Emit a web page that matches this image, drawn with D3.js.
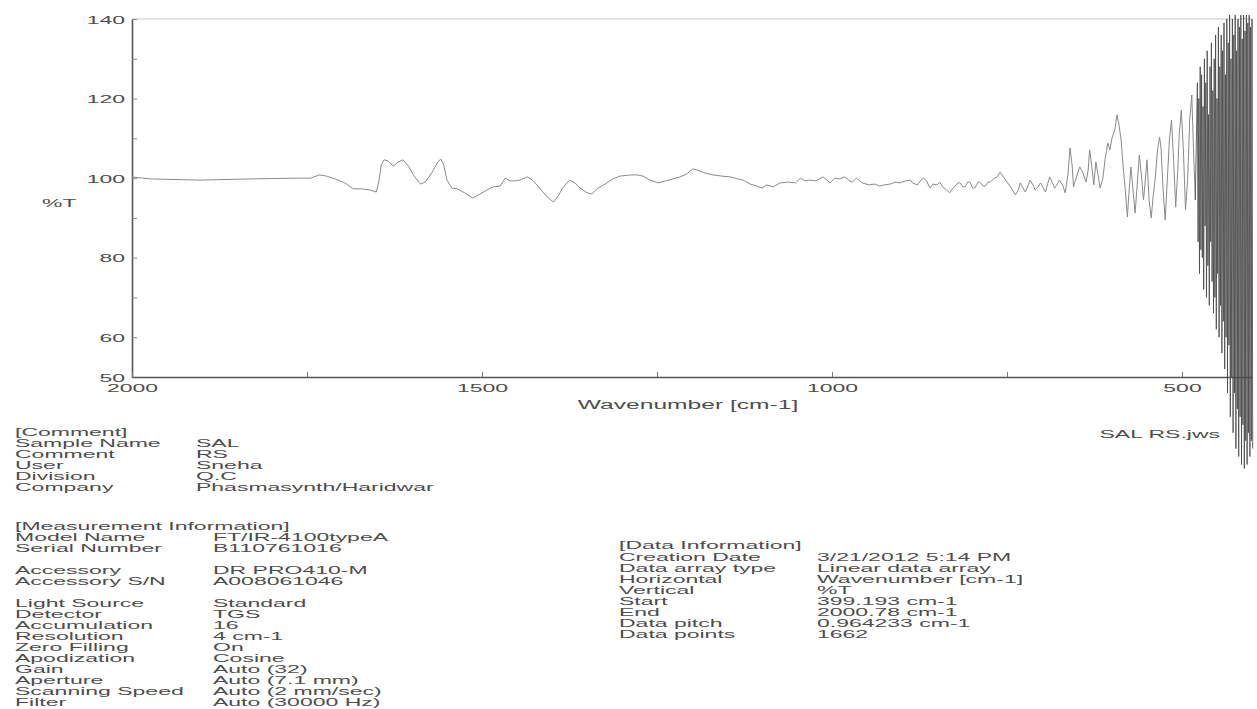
<!DOCTYPE html>
<html>
<head>
<meta charset="utf-8">
<script src="https://cdn.jsdelivr.net/npm/d3@7"></script>
<style>
  html, body { margin: 0; padding: 0; background: #fff; }
  svg { display: block; }
  text { font-family: "Liberation Sans", Arial, sans-serif; fill: #4d4d4d; }
</style>
</head>
<body>
<svg id="chart" width="1257" height="709"></svg>
<script>
// FT-IR transmittance spectrum, 2000 -> 400 cm-1
const wavenumber = [
  2000, 1974, 1903, 1831, 1760, 1745, 1732, 1722, 1710, 1696, 1684, 1672, 1660, 1651, 1647, 1644,
  1640, 1634, 1627, 1620, 1613, 1605, 1598, 1588, 1581, 1571, 1564, 1559, 1555, 1550, 1543, 1535,
  1525, 1513, 1503, 1493, 1484, 1474, 1467, 1460, 1453, 1446, 1435, 1428, 1420, 1412, 1405, 1398,
  1391, 1385, 1375, 1367, 1360, 1350, 1343, 1336, 1324, 1313, 1303, 1288, 1278, 1270, 1260, 1248,
  1238, 1227, 1217, 1208, 1199, 1192, 1182, 1170, 1157, 1145, 1135, 1127, 1117, 1107, 1100, 1093,
  1084, 1074, 1062, 1052, 1045, 1039, 1032, 1023, 1013, 1007, 1003, 996, 989, 982, 975, 971,
  965, 957, 947, 939, 932, 925, 917, 910, 903, 895, 888, 885, 878, 874, 869, 865,
  860, 856, 850, 846, 842, 836, 832, 827, 825, 820, 817, 813, 810, 806, 803, 799,
  796, 791, 789, 784, 781, 777, 774, 768, 764, 760, 756, 751, 745, 738, 734, 731,
  727, 724, 720, 717, 712, 710, 705, 702, 698, 695, 692, 689, 685, 682, 678, 675,
  670, 667, 663, 660, 657, 655, 650, 646, 642, 637, 634, 632, 629, 626, 623, 620,
  617, 613, 610, 606, 603, 600, 596, 593, 590, 587, 584, 581, 578, 576, 573, 570,
  567, 564, 561, 558, 555, 553, 550, 547, 544, 541, 538, 535, 532, 530, 527, 524,
  521, 518, 515, 512, 509, 506, 504, 501, 498, 495, 492, 489, 486, 484, 481
];
const transmittance = [
  100.3, 99.8, 99.5, 99.8, 100.0, 100.0, 100.8, 100.5, 99.8, 98.8, 97.3, 97.3, 97.0, 96.5, 99.5, 103.3,
  104.6, 104.3, 103.0, 104.0, 104.6, 103.0, 100.8, 98.5, 99.0, 101.5, 103.8, 104.8, 103.5, 99.5, 97.5, 97.3,
  96.3, 95.0, 96.0, 97.0, 97.8, 98.0, 100.0, 99.3, 99.3, 99.5, 100.3, 99.5, 98.0, 96.3, 95.0, 94.0,
  95.5, 97.5, 99.5, 98.8, 97.5, 96.3, 96.0, 97.3, 98.5, 99.8, 100.5, 100.8, 100.8, 100.5, 99.5, 98.8,
  99.3, 99.8, 100.3, 101.0, 102.3, 102.0, 101.3, 100.8, 100.5, 100.3, 99.8, 99.5, 98.5, 98.0, 97.5, 98.3,
  97.8, 98.8, 99.0, 98.8, 100.0, 99.3, 99.5, 99.3, 100.3, 99.5, 98.8, 100.0, 99.8, 100.3, 99.3, 99.0,
  100.0, 98.8, 98.3, 98.5, 98.0, 98.3, 98.5, 99.0, 98.8, 99.3, 99.5, 98.8, 98.3, 99.3, 100.0, 99.3,
  97.5, 98.5, 98.3, 99.0, 97.8, 97.0, 96.3, 97.5, 97.8, 98.8, 98.8, 97.8, 97.8, 99.0, 99.0, 97.5,
  97.5, 99.0, 99.0, 98.0, 98.0, 99.0, 99.0, 100.0, 100.3, 101.5, 100.5, 99.3, 97.8, 95.8, 97.0, 98.8,
  97.5, 96.5, 98.0, 99.5, 98.0, 97.0, 98.0, 98.8, 97.5, 96.5, 98.5, 100.3, 98.8, 97.5, 98.5, 99.5,
  98.0, 96.3, 100.8, 107.6, 103.3, 97.8, 100.8, 102.8, 101.5, 99.0, 102.0, 107.1, 103.3, 98.3, 104.1, 100.8,
  97.5, 100.0, 104.6, 108.8, 107.1, 110.1, 112.1, 115.9, 113.4, 109.6, 102.8, 97.0, 90.2, 95.8, 102.8, 97.0,
  91.2, 98.3, 105.8, 100.8, 94.5, 98.3, 104.6, 94.5, 90.0, 95.8, 100.3, 107.1, 110.3, 107.6, 97.0, 89.5,
  99.5, 109.6, 114.6, 104.6, 92.7, 102.0, 110.8, 117.1, 107.1, 92.0, 99.5, 114.6, 120.9, 109.6, 94.5
];
// low-wavenumber end, where the trace is dominated by noise
const noiseWavenumber = [
  478, 477, 476, 475, 474, 473,
  472, 471, 470, 469, 468, 467, 466, 465, 464, 463, 462, 461, 460, 459, 458, 457, 456, 455, 454, 453,
  452, 451, 450, 449, 448, 447, 446, 445, 444, 443, 442, 441, 440, 439, 438, 437, 436, 435, 434, 433,
  432, 431, 430, 429, 428, 427, 426, 425, 424, 423, 422, 421, 420, 419, 418, 417, 416, 415, 414, 413,
  412, 411, 410, 409, 408, 407, 406, 405, 404, 403, 402, 401, 400, 399
];
const noiseTransmittance = [
  124, 84, 120, 76, 128, 82,
  126, 80, 118, 72, 130, 88, 124, 70, 132, 78, 116, 68, 128, 84, 134, 74, 122, 66, 130, 70,
  136, 62, 120, 76, 138, 60, 128, 68, 136, 56, 132, 64, 139, 52, 126, 60, 140, 46, 134, 58,
  141, 40, 130, 50, 140, 36, 136, 46, 141, 32, 132, 42, 140, 30, 138, 40, 141, 28, 135, 38,
  141, 27, 137, 34, 141, 28, 139, 36, 141, 30, 138, 34, 140, 32
];

const yTickValues = [140, 130, 120, 110, 100, 90, 80, 70, 60, 50];
const yLabelValues = [140, 120, 100, 80, 60, 50];
const xTickValues = [2000, 1750, 1500, 1250, 1000, 750, 500];
const xLabelValues = [2000, 1500, 1000, 500];

const commentLabels = ["Sample Name", "Comment", "User", "Division", "Company"];
const commentValues = ["SAL", "RS", "Sneha", "Q.C", "Phasmasynth/Haridwar"];
const measurementLabels = ["Model Name", "Serial Number", "", "Accessory", "Accessory S/N", "",
  "Light Source", "Detector", "Accumulation", "Resolution", "Zero Filling", "Apodization",
  "Gain", "Aperture", "Scanning Speed", "Filter"];
const measurementValues = ["FT/IR-4100typeA", "B110761016", "", "DR PRO410-M", "A008061046", "",
  "Standard", "TGS", "16", "4 cm-1", "On", "Cosine",
  "Auto (32)", "Auto (7.1 mm)", "Auto (2 mm/sec)", "Auto (30000 Hz)"];
const dataInfoLabels = ["Creation Date", "Data array type", "Horizontal", "Vertical", "Start",
  "End", "Data pitch", "Data points"];
const dataInfoValues = ["3/21/2012 5:14 PM", "Linear data array", "Wavenumber [cm-1]", "%T",
  "399.193 cm-1", "2000.78 cm-1", "0.964233 cm-1", "1662"];

// printed text is wide relative to its height
const SX = 2.0;
const FS = 11.5;

const svg = d3.select("#chart");

const x = d3.scaleLinear().domain([2000, 400]).range([132, 1252]);
const y = d3.scaleLinear().domain([50, 140]).range([377, 19]);

function wideText(parent, px, py, str, anchor = "start", size = FS) {
  return parent.append("text")
    .attr("transform", `translate(${px},${py}) scale(${SX},1)`)
    .attr("text-anchor", anchor)
    .attr("font-size", size)
    .text(str);
}

// top frame line
svg.append("line")
  .attr("x1", x(2000)).attr("x2", x(400))
  .attr("y1", y(140)).attr("y2", y(140))
  .attr("stroke", "#c4c4c4").attr("stroke-width", 1);

// y axis
const yAxis = d3.axisLeft(y)
  .tickValues(yTickValues)
  .tickSizeInner(-5).tickSizeOuter(0)
  .tickFormat(d => yLabelValues.includes(d) ? d : "");
const gY = svg.append("g")
  .attr("transform", `translate(${x(2000)},0)`)
  .call(yAxis);
gY.select(".domain").attr("stroke", "#555").attr("stroke-width", 1.6);
gY.selectAll(".tick line").attr("stroke", "#888");
gY.selectAll(".tick text")
  .attr("x", 0).attr("dy", "0.36em")
  .attr("font-size", FS)
  .attr("fill", "#4d4d4d")
  .attr("transform", `translate(-7,0) scale(${SX},1)`);

// x axis
const xAxis = d3.axisBottom(x)
  .tickValues(xTickValues)
  .tickSizeInner(-5).tickSizeOuter(0)
  .tickFormat(d => xLabelValues.includes(d) ? d : "");
const gX = svg.append("g")
  .attr("transform", `translate(0,${y(50)})`)
  .call(xAxis);
gX.select(".domain").attr("stroke", "#555").attr("stroke-width", 1.4);
gX.selectAll(".tick line").attr("stroke", "#777");
gX.selectAll(".tick text")
  .attr("y", 0).attr("dy", 0)
  .attr("font-size", FS)
  .attr("fill", "#4d4d4d")
  .attr("transform", `translate(0,15) scale(${SX},1)`);

// axis titles
wideText(svg, 42, 207, "%T");
wideText(svg, 688, 409, "Wavenumber [cm-1]", "middle", 12.3);

// spectrum trace
const line = d3.line().x(d => x(d[0])).y(d => y(d[1]));
const mainPts = wavenumber.map((w, i) => [w, transmittance[i]]);
const noisePts = [mainPts[mainPts.length - 1]].concat(
  noiseWavenumber.map((w, i) => [w, noiseTransmittance[i]]));

svg.append("path")
  .datum(mainPts)
  .attr("d", line)
  .attr("fill", "none")
  .attr("stroke", "#8a8a8a")
  .attr("stroke-width", 1)
  .attr("stroke-linejoin", "round");
svg.append("path")
  .datum(noisePts)
  .attr("d", line)
  .attr("fill", "none")
  .attr("stroke", "#4a4a4a")
  .attr("stroke-width", 1)
  .attr("stroke-opacity", 0.85);

// file name
wideText(svg, 1220, 438, "SAL RS.jws", "end");

// comment block
const comment = svg.append("g");
wideText(comment, 15, 436, "[Comment]");
commentLabels.forEach((t, i) => {
  wideText(comment, 15, 447 + i * 11, t);
  wideText(comment, 196, 447 + i * 11, commentValues[i]);
});

// measurement block
const meas = svg.append("g");
wideText(meas, 15, 530, "[Measurement Information]");
measurementLabels.forEach((t, i) => {
  if (!t) return;
  const py = 541 + i * 11;
  wideText(meas, 15, py, t);
  wideText(meas, 213, py, measurementValues[i]);
});

// data information block
const info = svg.append("g");
wideText(info, 619, 549, "[Data Information]");
dataInfoLabels.forEach((t, i) => {
  wideText(info, 619, 561 + i * 11, t);
  wideText(info, 817, 561 + i * 11, dataInfoValues[i]);
});
</script>
</body>
</html>
